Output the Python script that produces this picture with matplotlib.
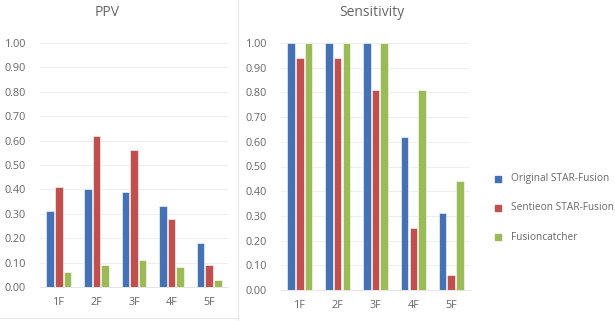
import matplotlib
matplotlib.use("Agg")
import matplotlib.pyplot as plt
from matplotlib.lines import Line2D
from matplotlib.patches import Rectangle
import numpy as np

plt.rcParams['font.family'] = ['Open Sans', 'DejaVu Sans']

categories = ['1F', '2F', '3F', '4F', '5F']
series = ['Original STAR-Fusion', 'Sentieon STAR-Fusion', 'Fusioncatcher']
ppv_original = [0.31, 0.40, 0.39, 0.33, 0.18]
ppv_sentieon = [0.41, 0.62, 0.56, 0.28, 0.09]
ppv_fusioncatcher = [0.06, 0.09, 0.11, 0.08, 0.03]
sens_original = [1.00, 1.00, 1.00, 0.62, 0.31]
sens_sentieon = [0.94, 0.94, 0.81, 0.25, 0.06]
sens_fusioncatcher = [1.00, 1.00, 1.00, 0.81, 0.44]
yticks = [0.0, 0.1, 0.2, 0.3, 0.4, 0.5, 0.6, 0.7, 0.8, 0.9, 1.0]

BLUE = '#4472B4'; RED = '#C0504D'; GREEN = '#9BBB59'
TXT = '#666666'; GRID = '#EBEBEB'
colors = [BLUE, RED, GREEN]

W, H = 615, 321
fig = plt.figure(figsize=(W / 100, H / 100), dpi=100)
fig.patch.set_facecolor('white')


def px_axes(x0, x1, ytop, ybot):
    return fig.add_axes([x0 / W, (H - ybot) / H, (x1 - x0) / W, (ybot - ytop) / H])


def draw(ax, data, title, title_x):
    x = np.arange(len(categories))
    for i, (vals, c) in enumerate(zip(data, colors)):
        ax.bar(x + (i - 1) * 0.23, vals, width=0.2, color=c,
               edgecolor='white', linewidth=0.4, zorder=3, label=series[i])
    ax.set_xlim(-0.5, len(categories) - 0.5)
    ax.set_ylim(0, 1.0)
    ax.set_yticks(yticks)
    ax.set_yticklabels([f'{v:.2f}' for v in yticks])
    ax.set_xticks(x)
    ax.set_xticklabels(categories)
    ax.tick_params(length=0, labelsize=7.8, colors=TXT, pad=7)
    ax.tick_params(axis='y', pad=10)
    ax.yaxis.grid(True, color=GRID, linewidth=0.6, zorder=0)
    ax.set_axisbelow(True)
    for s in ['top', 'right', 'left']:
        ax.spines[s].set_visible(False)
    ax.spines['bottom'].set_color('#E0E0E0')
    ax.spines['bottom'].set_linewidth(0.6)
    fig.text(title_x / W, (H - 12) / H, title, ha='center', va='center',
             fontsize=10, color=TXT)


ax1 = px_axes(40, 228, 43, 287)
draw(ax1, [ppv_original, ppv_sentieon, ppv_fusioncatcher], 'PPV', 107)

ax2 = px_axes(281, 470, 43, 290)
draw(ax2, [sens_original, sens_sentieon, sens_fusioncatcher], 'Sensitivity', 372)

# legend
for i, (name, c) in enumerate(zip(series, colors)):
    yy = 179 + i * 29
    fig.add_artist(Rectangle((495 / W, (H - yy - 3) / H), 6 / W, 6 / H,
                             transform=fig.transFigure, color=c))
    fig.text(511 / W, (H - yy) / H, name, ha='left', va='center',
             fontsize=7.3, color=TXT)

# panel separators
fig.add_artist(Line2D([238 / W, 238 / W], [0, 1], transform=fig.transFigure,
                      color='#E8E8E8', linewidth=0.8))
fig.add_artist(Line2D([0, 238 / W], [(H - 318) / H] * 2, transform=fig.transFigure,
                      color='#E8E8E8', linewidth=0.8))

fig.savefig('out.png', dpi=100, facecolor='white')
